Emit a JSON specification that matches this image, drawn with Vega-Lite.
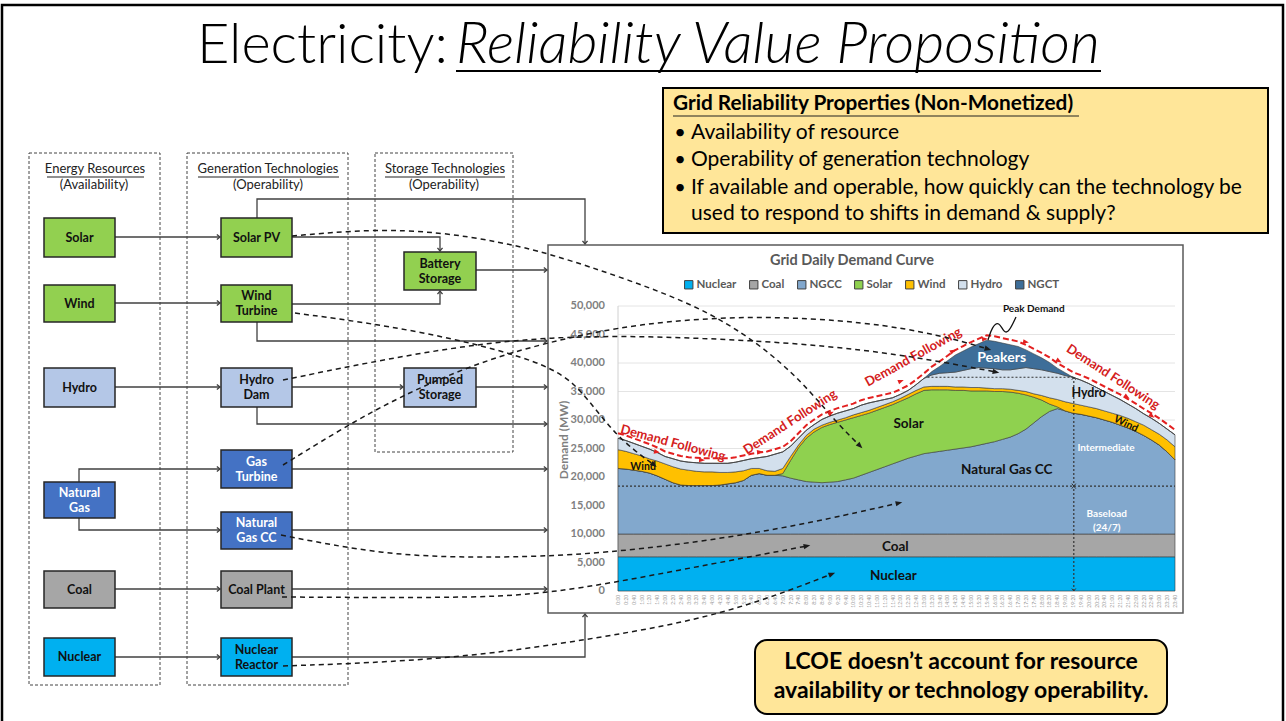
{
"$schema": "https://vega.github.io/schema/vega-lite/v6.json",
"width": 1286, "height": 721, "padding": 0, "autosize": {"type": "none"},
"background": "white",
"config": {"view": {"stroke": null}, "font": "Lato"},
"datasets": {
"gen": [
{"t":0,"hm":"0:00","Nuclear":6000,"Coal":4000,"NGCC":11500,"Solar":0,"Wind":3300,"Hydro":2000,"NGCT":0},
{"t":20,"hm":"0:20","Nuclear":6000,"Coal":4000,"NGCC":11400,"Solar":0,"Wind":3100,"Hydro":1900,"NGCT":0},
{"t":40,"hm":"0:40","Nuclear":6000,"Coal":4000,"NGCC":11200,"Solar":0,"Wind":2900,"Hydro":1800,"NGCT":0},
{"t":60,"hm":"1:00","Nuclear":6000,"Coal":4000,"NGCC":11000,"Solar":0,"Wind":2700,"Hydro":1700,"NGCT":0},
{"t":80,"hm":"1:20","Nuclear":6000,"Coal":4000,"NGCC":10700,"Solar":0,"Wind":2500,"Hydro":1700,"NGCT":0},
{"t":100,"hm":"1:40","Nuclear":6000,"Coal":4000,"NGCC":10200,"Solar":0,"Wind":2600,"Hydro":1500,"NGCT":0},
{"t":120,"hm":"2:00","Nuclear":6000,"Coal":4000,"NGCC":9600,"Solar":0,"Wind":2700,"Hydro":1300,"NGCT":0},
{"t":140,"hm":"2:20","Nuclear":6000,"Coal":4000,"NGCC":9000,"Solar":0,"Wind":2800,"Hydro":1400,"NGCT":0},
{"t":160,"hm":"2:40","Nuclear":6000,"Coal":4000,"NGCC":8600,"Solar":0,"Wind":2800,"Hydro":1400,"NGCT":0},
{"t":180,"hm":"3:00","Nuclear":6000,"Coal":4000,"NGCC":8500,"Solar":0,"Wind":2700,"Hydro":1400,"NGCT":0},
{"t":200,"hm":"3:20","Nuclear":6000,"Coal":4000,"NGCC":8500,"Solar":0,"Wind":2500,"Hydro":1500,"NGCT":0},
{"t":220,"hm":"3:40","Nuclear":6000,"Coal":4000,"NGCC":8500,"Solar":0,"Wind":2400,"Hydro":1500,"NGCT":0},
{"t":240,"hm":"4:00","Nuclear":6000,"Coal":4000,"NGCC":8500,"Solar":0,"Wind":2400,"Hydro":1500,"NGCT":0},
{"t":260,"hm":"4:20","Nuclear":6000,"Coal":4000,"NGCC":8600,"Solar":0,"Wind":2200,"Hydro":1600,"NGCT":0},
{"t":280,"hm":"4:40","Nuclear":6000,"Coal":4000,"NGCC":8800,"Solar":0,"Wind":2000,"Hydro":1600,"NGCT":0},
{"t":300,"hm":"5:00","Nuclear":6000,"Coal":4000,"NGCC":9000,"Solar":0,"Wind":1900,"Hydro":1700,"NGCT":0},
{"t":320,"hm":"5:20","Nuclear":6000,"Coal":4000,"NGCC":9400,"Solar":0,"Wind":1700,"Hydro":1800,"NGCT":0},
{"t":340,"hm":"5:40","Nuclear":6000,"Coal":4000,"NGCC":10300,"Solar":0,"Wind":1200,"Hydro":1700,"NGCT":0},
{"t":360,"hm":"6:00","Nuclear":6000,"Coal":4000,"NGCC":10600,"Solar":0,"Wind":900,"Hydro":1900,"NGCT":0},
{"t":380,"hm":"6:20","Nuclear":6000,"Coal":4000,"NGCC":10300,"Solar":0,"Wind":800,"Hydro":2500,"NGCT":0},
{"t":400,"hm":"6:40","Nuclear":6000,"Coal":4000,"NGCC":10300,"Solar":0,"Wind":700,"Hydro":3000,"NGCT":0},
{"t":420,"hm":"7:00","Nuclear":6000,"Coal":4000,"NGCC":10200,"Solar":400,"Wind":900,"Hydro":2900,"NGCT":0},
{"t":440,"hm":"7:20","Nuclear":6000,"Coal":4000,"NGCC":9800,"Solar":3100,"Wind":700,"Hydro":1800,"NGCT":0},
{"t":460,"hm":"7:40","Nuclear":6000,"Coal":4000,"NGCC":9500,"Solar":5600,"Wind":500,"Hydro":1200,"NGCT":0},
{"t":480,"hm":"8:00","Nuclear":6000,"Coal":4000,"NGCC":9200,"Solar":7600,"Wind":500,"Hydro":900,"NGCT":0},
{"t":500,"hm":"8:20","Nuclear":6000,"Coal":4000,"NGCC":9100,"Solar":8800,"Wind":500,"Hydro":800,"NGCT":0},
{"t":520,"hm":"8:40","Nuclear":6000,"Coal":4000,"NGCC":9000,"Solar":9700,"Wind":400,"Hydro":1000,"NGCT":0},
{"t":540,"hm":"9:00","Nuclear":6000,"Coal":4000,"NGCC":9100,"Solar":10100,"Wind":400,"Hydro":1100,"NGCT":0},
{"t":560,"hm":"9:20","Nuclear":6000,"Coal":4000,"NGCC":9200,"Solar":10400,"Wind":400,"Hydro":1200,"NGCT":0},
{"t":580,"hm":"9:40","Nuclear":6000,"Coal":4000,"NGCC":9500,"Solar":10500,"Wind":400,"Hydro":1200,"NGCT":0},
{"t":600,"hm":"10:00","Nuclear":6000,"Coal":4000,"NGCC":9800,"Solar":10600,"Wind":500,"Hydro":1100,"NGCT":0},
{"t":620,"hm":"10:20","Nuclear":6000,"Coal":4000,"NGCC":10300,"Solar":10500,"Wind":500,"Hydro":1300,"NGCT":0},
{"t":640,"hm":"10:40","Nuclear":6000,"Coal":4000,"NGCC":10800,"Solar":10400,"Wind":500,"Hydro":1300,"NGCT":0},
{"t":660,"hm":"11:00","Nuclear":6000,"Coal":4000,"NGCC":11300,"Solar":10400,"Wind":500,"Hydro":1100,"NGCT":0},
{"t":680,"hm":"11:20","Nuclear":6000,"Coal":4000,"NGCC":11800,"Solar":10400,"Wind":500,"Hydro":900,"NGCT":0},
{"t":700,"hm":"11:40","Nuclear":6000,"Coal":4000,"NGCC":12300,"Solar":10400,"Wind":500,"Hydro":700,"NGCT":0},
{"t":720,"hm":"12:00","Nuclear":6000,"Coal":4000,"NGCC":12800,"Solar":10500,"Wind":500,"Hydro":700,"NGCT":0},
{"t":740,"hm":"12:20","Nuclear":6000,"Coal":4000,"NGCC":13300,"Solar":10600,"Wind":600,"Hydro":700,"NGCT":0},
{"t":760,"hm":"12:40","Nuclear":6000,"Coal":4000,"NGCC":13700,"Solar":10900,"Wind":600,"Hydro":1000,"NGCT":0},
{"t":780,"hm":"13:00","Nuclear":6000,"Coal":4000,"NGCC":14100,"Solar":11100,"Wind":600,"Hydro":1500,"NGCT":0},
{"t":800,"hm":"13:20","Nuclear":6000,"Coal":4000,"NGCC":14300,"Solar":11000,"Wind":600,"Hydro":2000,"NGCT":600},
{"t":820,"hm":"13:40","Nuclear":6000,"Coal":4000,"NGCC":14500,"Solar":10800,"Wind":600,"Hydro":2300,"NGCT":1200},
{"t":840,"hm":"14:00","Nuclear":6000,"Coal":4000,"NGCC":14700,"Solar":10600,"Wind":600,"Hydro":2400,"NGCT":2100},
{"t":860,"hm":"14:20","Nuclear":6000,"Coal":4000,"NGCC":14900,"Solar":10300,"Wind":600,"Hydro":2600,"NGCT":3000},
{"t":880,"hm":"14:40","Nuclear":6000,"Coal":4000,"NGCC":15100,"Solar":10100,"Wind":600,"Hydro":2900,"NGCT":3400},
{"t":900,"hm":"15:00","Nuclear":6000,"Coal":4000,"NGCC":15300,"Solar":9800,"Wind":600,"Hydro":3300,"NGCT":3800},
{"t":920,"hm":"15:20","Nuclear":6000,"Coal":4000,"NGCC":15600,"Solar":9500,"Wind":600,"Hydro":3500,"NGCT":4200},
{"t":940,"hm":"15:40","Nuclear":6000,"Coal":4000,"NGCC":15900,"Solar":9200,"Wind":500,"Hydro":3500,"NGCT":4900},
{"t":960,"hm":"16:00","Nuclear":6000,"Coal":4000,"NGCC":16200,"Solar":8800,"Wind":500,"Hydro":3500,"NGCT":4800},
{"t":980,"hm":"16:20","Nuclear":6000,"Coal":4000,"NGCC":16600,"Solar":8400,"Wind":500,"Hydro":3300,"NGCT":4700},
{"t":1000,"hm":"16:40","Nuclear":6000,"Coal":4000,"NGCC":17000,"Solar":7900,"Wind":500,"Hydro":3400,"NGCT":4400},
{"t":1020,"hm":"17:00","Nuclear":6000,"Coal":4000,"NGCC":17600,"Solar":7100,"Wind":500,"Hydro":3800,"NGCT":3900},
{"t":1040,"hm":"17:20","Nuclear":6000,"Coal":4000,"NGCC":18400,"Solar":6000,"Wind":600,"Hydro":4200,"NGCT":3100},
{"t":1060,"hm":"17:40","Nuclear":6000,"Coal":4000,"NGCC":19500,"Solar":4500,"Wind":600,"Hydro":4400,"NGCT":2600},
{"t":1080,"hm":"18:00","Nuclear":6000,"Coal":4000,"NGCC":20600,"Solar":2900,"Wind":800,"Hydro":4500,"NGCT":2100},
{"t":1100,"hm":"18:20","Nuclear":6000,"Coal":4000,"NGCC":21500,"Solar":1300,"Wind":1100,"Hydro":4600,"NGCT":1600},
{"t":1120,"hm":"18:40","Nuclear":6000,"Coal":4000,"NGCC":22000,"Solar":300,"Wind":1300,"Hydro":4600,"NGCT":900},
{"t":1140,"hm":"19:00","Nuclear":6000,"Coal":4000,"NGCC":21600,"Solar":0,"Wind":1600,"Hydro":4600,"NGCT":500},
{"t":1160,"hm":"19:20","Nuclear":6000,"Coal":4000,"NGCC":21200,"Solar":0,"Wind":1700,"Hydro":4600,"NGCT":0},
{"t":1180,"hm":"19:40","Nuclear":6000,"Coal":4000,"NGCC":21000,"Solar":0,"Wind":1600,"Hydro":4400,"NGCT":0},
{"t":1200,"hm":"20:00","Nuclear":6000,"Coal":4000,"NGCC":20700,"Solar":0,"Wind":1600,"Hydro":4100,"NGCT":0},
{"t":1220,"hm":"20:20","Nuclear":6000,"Coal":4000,"NGCC":20400,"Solar":0,"Wind":1600,"Hydro":3700,"NGCT":0},
{"t":1240,"hm":"20:40","Nuclear":6000,"Coal":4000,"NGCC":20000,"Solar":0,"Wind":1600,"Hydro":3400,"NGCT":0},
{"t":1260,"hm":"21:00","Nuclear":6000,"Coal":4000,"NGCC":19600,"Solar":0,"Wind":1600,"Hydro":3100,"NGCT":0},
{"t":1280,"hm":"21:20","Nuclear":6000,"Coal":4000,"NGCC":19100,"Solar":0,"Wind":1700,"Hydro":2800,"NGCT":0},
{"t":1300,"hm":"21:40","Nuclear":6000,"Coal":4000,"NGCC":18600,"Solar":0,"Wind":1700,"Hydro":2500,"NGCT":0},
{"t":1320,"hm":"22:00","Nuclear":6000,"Coal":4000,"NGCC":18000,"Solar":0,"Wind":1700,"Hydro":2300,"NGCT":0},
{"t":1340,"hm":"22:20","Nuclear":6000,"Coal":4000,"NGCC":17300,"Solar":0,"Wind":1800,"Hydro":2000,"NGCT":0},
{"t":1360,"hm":"22:40","Nuclear":6000,"Coal":4000,"NGCC":16500,"Solar":0,"Wind":1800,"Hydro":2000,"NGCT":0},
{"t":1380,"hm":"23:00","Nuclear":6000,"Coal":4000,"NGCC":15600,"Solar":0,"Wind":1900,"Hydro":1900,"NGCT":0},
{"t":1400,"hm":"23:20","Nuclear":6000,"Coal":4000,"NGCC":14400,"Solar":0,"Wind":2100,"Hydro":1900,"NGCT":0},
{"t":1420,"hm":"23:40","Nuclear":6000,"Coal":4000,"NGCC":13000,"Solar":0,"Wind":2300,"Hydro":2100,"NGCT":0}
],
"rank": [{"src":"Nuclear","k":1},{"src":"Coal","k":2},{"src":"NGCC","k":3},{"src":"Solar","k":4},{"src":"Wind","k":5},{"src":"Hydro","k":6},{"src":"NGCT","k":7}],
"yticks": [{"t":0,"t2":1420,"mw":0},{"t":0,"t2":1420,"mw":5000},{"t":0,"t2":1420,"mw":10000},{"t":0,"t2":1420,"mw":15000},{"t":0,"t2":1420,"mw":20000},{"t":0,"t2":1420,"mw":25000},{"t":0,"t2":1420,"mw":30000},{"t":0,"t2":1420,"mw":35000},{"t":0,"t2":1420,"mw":40000},{"t":0,"t2":1420,"mw":45000},{"t":0,"t2":1420,"mw":50000}]
},
"resolve": {"scale": {"x": "independent", "y": "independent"}},
"layer": [
{
"encoding": {
 "x": {"field": "x", "type": "quantitative", "scale": {"domain": [0, 1286], "range": [0, 1286], "nice": false, "zero": false}, "axis": null},
 "y": {"field": "y", "type": "quantitative", "scale": {"domain": [0, 721], "range": [0, 721], "nice": false, "zero": false}, "axis": null}
},
"layer": [
 {"data": {"values": [{"x": 2, "y": 5, "x2": 1283, "y2": 740}]}, "mark": {"type": "rect", "fillOpacity": 0, "stroke": "#000", "strokeWidth": 2.5}, "encoding": {"x2": {"field": "x2"}, "y2": {"field": "y2"}}},
 {"data": {"values": [{"x": 448, "y": 46, "label": "Electricity:"}]}, "mark": {"type": "text", "align": "right", "fontSize": 56, "fontWeight": 300, "color": "#000"}, "encoding": {"text": {"field": "label"}}},
 {"data": {"values": [{"x": 456, "y": 46, "label": "Reliability Value Proposition"}]}, "mark": {"type": "text", "align": "left", "fontSize": 58, "fontWeight": 300, "fontStyle": "italic", "color": "#000"}, "encoding": {"text": {"field": "label"}}},
 {"data": {"values": [{"x": 456, "x2": 1101, "y": 71}]}, "mark": {"type": "rule", "color": "#000", "strokeWidth": 2}, "encoding": {"x2": {"field": "x2"}}},
 {"data": {"values": [{"x": 663, "y": 88, "x2": 1268, "y2": 233}]}, "mark": {"type": "rect", "fill": "#ffe699", "stroke": "#000", "strokeWidth": 2}, "encoding": {"x2": {"field": "x2"}, "y2": {"field": "y2"}}},
 {"data": {"values": [{"x": 673, "y": 104, "label": "Grid Reliability Properties (Non-Monetized)"}]}, "mark": {"type": "text", "align": "left", "fontSize": 20.8, "fontWeight": "bold", "color": "#000"}, "encoding": {"text": {"field": "label"}}},
 {"data": {"values": [{"x": 673, "x2": 1079, "y": 116}, {"x": 47, "x2": 144, "y": 177}, {"x": 198, "x2": 339, "y": 177}, {"x": 385, "x2": 505, "y": 177}]}, "mark": {"type": "rule", "color": "#222", "strokeWidth": 1.2}, "encoding": {"x2": {"field": "x2"}}},
 {"data": {"values": [{"x": 680, "y": 133, "label": "•"}, {"x": 680, "y": 160, "label": "•"}, {"x": 680, "y": 188, "label": "•"}]}, "mark": {"type": "text", "align": "center", "fontSize": 20, "color": "#000"}, "encoding": {"text": {"field": "label"}}},
 {"data": {"values": [{"x": 691, "y": 133, "label": "Availability of resource"}, {"x": 691, "y": 160, "label": "Operability of generation technology"}, {"x": 691, "y": 188, "label": "If available and operable, how quickly can the technology be"}, {"x": 691, "y": 214, "label": "used to respond to shifts in demand & supply?"}]}, "mark": {"type": "text", "align": "left", "fontSize": 21, "color": "#000"}, "encoding": {"text": {"field": "label"}}},
 {"data": {"values": [{"x": 29, "y": 153, "x2": 160, "y2": 685}, {"x": 187, "y": 153, "x2": 348, "y2": 685}, {"x": 375, "y": 153, "x2": 513, "y2": 452}]}, "mark": {"type": "rect", "fillOpacity": 0, "stroke": "#444", "strokeWidth": 1, "strokeDash": [3, 2]}, "encoding": {"x2": {"field": "x2"}, "y2": {"field": "y2"}}},
 {"data": {"values": [{"x": 95, "y": 169, "label": "Energy Resources"}, {"x": 94, "y": 185, "label": "(Availability)"}, {"x": 268, "y": 169, "label": "Generation Technologies"}, {"x": 268, "y": 185, "label": "(Operability)"}, {"x": 445, "y": 169, "label": "Storage Technologies"}, {"x": 444, "y": 185, "label": "(Operability)"}]}, "mark": {"type": "text", "fontSize": 13, "color": "#222"}, "encoding": {"text": {"field": "label"}}},
 {"data": {"values": [{"x": 548, "y": 245, "x2": 1183, "y2": 613}]}, "mark": {"type": "rect", "fill": "#ffffff", "stroke": "#595959", "strokeWidth": 1.5}, "encoding": {"x2": {"field": "x2"}, "y2": {"field": "y2"}}},
 {"data": {"values": [
  {"id": 1, "o": 1, "x": 115, "y": 237}, {"id": 1, "o": 2, "x": 220, "y": 237},
  {"id": 2, "o": 1, "x": 115, "y": 303}, {"id": 2, "o": 2, "x": 220, "y": 303},
  {"id": 3, "o": 1, "x": 115, "y": 387}, {"id": 3, "o": 2, "x": 220, "y": 387},
  {"id": 4, "o": 1, "x": 79, "y": 482}, {"id": 4, "o": 2, "x": 79, "y": 469}, {"id": 4, "o": 3, "x": 220, "y": 469},
  {"id": 5, "o": 1, "x": 79, "y": 518}, {"id": 5, "o": 2, "x": 79, "y": 530}, {"id": 5, "o": 3, "x": 220, "y": 530},
  {"id": 6, "o": 1, "x": 115, "y": 589}, {"id": 6, "o": 2, "x": 220, "y": 589},
  {"id": 7, "o": 1, "x": 115, "y": 657}, {"id": 7, "o": 2, "x": 220, "y": 657},
  {"id": 8, "o": 1, "x": 257, "y": 218}, {"id": 8, "o": 2, "x": 257, "y": 199}, {"id": 8, "o": 3, "x": 585, "y": 199}, {"id": 8, "o": 4, "x": 585, "y": 244},
  {"id": 9, "o": 1, "x": 292, "y": 237}, {"id": 9, "o": 2, "x": 440, "y": 237}, {"id": 9, "o": 3, "x": 440, "y": 251},
  {"id": 10, "o": 1, "x": 292, "y": 304}, {"id": 10, "o": 2, "x": 440, "y": 304}, {"id": 10, "o": 3, "x": 440, "y": 291},
  {"id": 11, "o": 1, "x": 257, "y": 322}, {"id": 11, "o": 2, "x": 257, "y": 341}, {"id": 11, "o": 3, "x": 547, "y": 341},
  {"id": 12, "o": 1, "x": 476, "y": 270}, {"id": 12, "o": 2, "x": 547, "y": 270},
  {"id": 13, "o": 1, "x": 292, "y": 387}, {"id": 13, "o": 2, "x": 403, "y": 387},
  {"id": 14, "o": 1, "x": 476, "y": 387}, {"id": 14, "o": 2, "x": 547, "y": 387},
  {"id": 15, "o": 1, "x": 257, "y": 407}, {"id": 15, "o": 2, "x": 257, "y": 424}, {"id": 15, "o": 3, "x": 547, "y": 424},
  {"id": 16, "o": 1, "x": 292, "y": 469}, {"id": 16, "o": 2, "x": 547, "y": 469},
  {"id": 17, "o": 1, "x": 292, "y": 530}, {"id": 17, "o": 2, "x": 547, "y": 530},
  {"id": 18, "o": 1, "x": 292, "y": 589}, {"id": 18, "o": 2, "x": 547, "y": 589},
  {"id": 19, "o": 1, "x": 292, "y": 657}, {"id": 19, "o": 2, "x": 585, "y": 657}, {"id": 19, "o": 3, "x": 585, "y": 614}
 ]}, "mark": {"type": "line", "color": "#404040", "strokeWidth": 1.3}, "encoding": {"detail": {"field": "id", "type": "nominal"}, "order": {"field": "o", "type": "quantitative"}}},
 {"data": {"values": [
  {"x": 220, "y": 237, "s": "r"}, {"x": 220, "y": 303, "s": "r"}, {"x": 220, "y": 387, "s": "r"}, {"x": 220, "y": 469, "s": "r"}, {"x": 220, "y": 530, "s": "r"}, {"x": 220, "y": 589, "s": "r"}, {"x": 220, "y": 657, "s": "r"},
  {"x": 585, "y": 244, "s": "d"}, {"x": 440, "y": 251, "s": "d"}, {"x": 440, "y": 291, "s": "u"}, {"x": 547, "y": 341, "s": "r"}, {"x": 547, "y": 270, "s": "r"}, {"x": 403, "y": 387, "s": "r"}, {"x": 547, "y": 387, "s": "r"}, {"x": 547, "y": 424, "s": "r"}, {"x": 547, "y": 469, "s": "r"}, {"x": 547, "y": 530, "s": "r"}, {"x": 547, "y": 589, "s": "r"}, {"x": 585, "y": 614, "s": "u"}
 ]}, "mark": {"type": "point", "filled": false, "stroke": "#404040", "strokeWidth": 1.3, "size": 40, "opacity": 1}, "encoding": {"shape": {"field": "s", "type": "nominal", "scale": {"domain": ["r", "d", "u"], "range": ["M-1,-0.8L0,0L-1,0.8", "M-0.8,-1L0,0L0.8,-1", "M-0.8,1L0,0L0.8,1"]}, "legend": null}}},
 {"data": {"values": [
  {"x": 44, "x2": 115, "y": 218, "y2": 257, "k": "Renewable"}, {"x": 44, "x2": 115, "y": 285, "y2": 322, "k": "Renewable"}, {"x": 44, "x2": 115, "y": 368, "y2": 407, "k": "Hydro"}, {"x": 44, "x2": 115, "y": 482, "y2": 518, "k": "Gas"}, {"x": 44, "x2": 115, "y": 571, "y2": 608, "k": "Coal"}, {"x": 44, "x2": 115, "y": 638, "y2": 676, "k": "Nuclear"},
  {"x": 221, "x2": 292, "y": 218, "y2": 257, "k": "Renewable"}, {"x": 221, "x2": 292, "y": 285, "y2": 322, "k": "Renewable"}, {"x": 221, "x2": 292, "y": 368, "y2": 407, "k": "Hydro"}, {"x": 221, "x2": 292, "y": 450, "y2": 488, "k": "Gas"}, {"x": 221, "x2": 292, "y": 512, "y2": 549, "k": "Gas"}, {"x": 221, "x2": 292, "y": 571, "y2": 608, "k": "Coal"}, {"x": 221, "x2": 292, "y": 638, "y2": 676, "k": "Nuclear"},
  {"x": 404, "x2": 476, "y": 252, "y2": 290, "k": "Renewable"}, {"x": 404, "x2": 476, "y": 368, "y2": 407, "k": "Hydro"}
 ]}, "mark": {"type": "rect", "stroke": "#262626", "strokeWidth": 1.5}, "encoding": {"x2": {"field": "x2"}, "y2": {"field": "y2"}, "fill": {"field": "k", "type": "nominal", "scale": {"domain": ["Renewable", "Hydro", "Gas", "Coal", "Nuclear"], "range": ["#92d050", "#b4c7e7", "#4472c4", "#a6a6a6", "#00b0f0"]}, "legend": null}}},
 {"data": {"values": [
  {"x": 79.5, "y": 237.5, "label": "Solar"}, {"x": 79.5, "y": 303.5, "label": "Wind"}, {"x": 79.5, "y": 387.5, "label": "Hydro"}, {"x": 79.5, "y": 589.5, "label": "Coal"}, {"x": 79.5, "y": 657, "label": "Nuclear"},
  {"x": 256.5, "y": 237.5, "label": "Solar PV"}, {"x": 256.5, "y": 296, "label": "Wind\nTurbine"}, {"x": 256.5, "y": 380, "label": "Hydro\nDam"}, {"x": 256.5, "y": 589.5, "label": "Coal Plant"}, {"x": 256.5, "y": 649.5, "label": "Nuclear\nReactor"},
  {"x": 440, "y": 263.5, "label": "Battery\nStorage"}, {"x": 440, "y": 380, "label": "Pumped\nStorage"}
 ]}, "mark": {"type": "text", "fontSize": 12.5, "fontWeight": "bold", "color": "#111", "lineBreak": "\n", "lineHeight": 15}, "encoding": {"text": {"field": "label"}}},
 {"data": {"values": [
  {"x": 79.5, "y": 492.5, "label": "Natural\nGas"}, {"x": 256.5, "y": 461.5, "label": "Gas\nTurbine"}, {"x": 256.5, "y": 523, "label": "Natural\nGas CC"}
 ]}, "mark": {"type": "text", "fontSize": 12.5, "fontWeight": "bold", "color": "#ffffff", "lineBreak": "\n", "lineHeight": 15}, "encoding": {"text": {"field": "label"}}},
 {"data": {"values": [{"x": 852, "y": 261, "label": "Grid Daily Demand Curve"}]}, "mark": {"type": "text", "fontSize": 14.5, "fontWeight": "bold", "color": "#595959"}, "encoding": {"text": {"field": "label"}}},
 {"data": {"values": [{"x": 564, "y": 440, "label": "Demand (MW)"}]}, "mark": {"type": "text", "fontSize": 12, "fontWeight": "bold", "color": "#7f7f7f", "angle": 270}, "encoding": {"text": {"field": "label"}}},
 {"data": {"values": [{"x": 755, "y": 640, "x2": 1167, "y2": 714}]}, "mark": {"type": "rect", "fill": "#ffe699", "stroke": "#000", "strokeWidth": 2, "cornerRadius": 12}, "encoding": {"x2": {"field": "x2"}, "y2": {"field": "y2"}}},
 {"data": {"values": [{"x": 961, "y": 662, "label": "LCOE doesn’t account for resource"}, {"x": 961, "y": 691, "label": "availability or technology operability."}]}, "mark": {"type": "text", "fontSize": 23, "fontWeight": "bold", "color": "#000"}, "encoding": {"text": {"field": "label"}}}
]
},
{
"encoding": {
 "x": {"field": "t", "type": "quantitative", "scale": {"domain": [0, 1420], "range": [618, 1175], "nice": false, "zero": false}, "axis": null},
 "y": {"field": "mw", "type": "quantitative", "scale": {"domain": [0, 50000], "range": [591, 306], "nice": false, "zero": false}, "axis": null}
},
"layer": [
 {"data": {"name": "yticks"}, "mark": {"type": "rule", "color": "#e4e4e4", "strokeWidth": 1}, "encoding": {"x2": {"field": "t2"}}},
 {"data": {"values": [{"t": 0, "mw": 0, "mw2": 50000}]}, "mark": {"type": "rule", "color": "#d0d0d0", "strokeWidth": 1}, "encoding": {"y2": {"field": "mw2"}}},
 {"data": {"name": "yticks"}, "mark": {"type": "text", "align": "right", "dx": -13, "fontSize": 11, "fontWeight": "bold", "color": "#808080"}, "encoding": {"text": {"field": "mw", "type": "quantitative", "format": ","}}},
 {"data": {"name": "gen"}, "transform": [{"fold": ["Nuclear"], "as": ["src", "mw"]}], "mark": {"type": "text", "align": "right", "angle": 270, "fontSize": 5, "color": "#9a9a9a", "yOffset": 38}, "encoding": {"text": {"field": "hm", "type": "nominal"}}},
 {"data": {"name": "gen"},
  "transform": [{"fold": ["Nuclear", "Coal", "NGCC", "Solar", "Wind", "Hydro", "NGCT"], "as": ["src", "mw"]}, {"lookup": "src", "from": {"data": {"name": "rank"}, "key": "src", "fields": ["k"]}}],
  "mark": {"type": "area", "stroke": "#3a3a3a", "strokeWidth": 0.6, "opacity": 1},
  "encoding": {
   "color": {"field": "src", "type": "nominal", "scale": {"domain": ["Nuclear", "Coal", "NGCC", "Solar", "Wind", "Hydro", "NGCT"], "range": ["#00b0f0", "#a6a6a6", "#82a8cd", "#8fd14f", "#ffc000", "#d3e0ed", "#3e6e99"]},
    "legend": {"orient": "none", "legendX": 683, "legendY": 279, "direction": "horizontal", "title": null, "symbolType": "square", "symbolSize": 70, "symbolStrokeColor": "#404040", "symbolStrokeWidth": 1, "labelFontSize": 11.5, "labelFontWeight": "bold", "labelColor": "#595959", "columnPadding": 10, "labelOffset": 2}},
   "order": {"field": "k", "type": "quantitative", "sort": "ascending"}
  }},
 {"data": {"values": [{"t": 0, "t2": 1420, "mw": 18400}, {"t": 789, "t2": 1162, "mw": 37500}]}, "mark": {"type": "rule", "strokeDash": [2, 2], "color": "#333", "strokeWidth": 1.2}, "encoding": {"x2": {"field": "t2"}}},
 {"data": {"values": [{"t": 1162, "mw": 0, "mw2": 37500}]}, "mark": {"type": "rule", "strokeDash": [2, 2], "color": "#333", "strokeWidth": 1.2}, "encoding": {"y2": {"field": "mw2"}}},
 {"data": {"values": [{"t": 1162, "mw": 37500, "s": "u"}, {"t": 1162, "mw": 18400, "s": "d"}, {"t": 1162, "mw": 18400, "s": "u"}, {"t": 1162, "mw": 0, "s": "d"}]}, "mark": {"type": "point", "filled": false, "stroke": "#333", "strokeWidth": 1, "size": 25, "opacity": 1}, "encoding": {"shape": {"field": "s", "type": "nominal", "scale": {"domain": ["r", "d", "u"], "range": ["M-1,-0.8L0,0L-1,0.8", "M-0.8,-1L0,0L0.8,-1", "M-0.8,1L0,0L0.8,1"]}, "legend": null}}},
 {"data": {"name": "gen"}, "transform": [{"fold": ["Nuclear", "Coal", "NGCC", "Solar", "Wind", "Hydro", "NGCT"], "as": ["src", "mw"]}],
  "mark": {"type": "line", "color": "#e32020", "strokeWidth": 2, "strokeDash": [6, 3], "yOffset": -5},
  "encoding": {"y": {"aggregate": "sum", "field": "mw", "type": "quantitative", "scale": {"domain": [0, 50000], "range": [591, 306], "nice": false, "zero": false}, "axis": null}}},
 {"data": {"values": [{"t": 741, "mw": 29300, "label": "Solar"}, {"t": 991, "mw": 21200, "label": "Natural Gas CC"}, {"t": 707, "mw": 7700, "label": "Coal"}, {"t": 702, "mw": 2600, "label": "Nuclear"}]}, "mark": {"type": "text", "fontSize": 13.5, "fontWeight": "bold", "color": "#111"}, "encoding": {"text": {"field": "label"}}},
 {"data": {"values": [{"t": 978, "mw": 40900, "label": "Peakers"}]}, "mark": {"type": "text", "fontSize": 14, "fontWeight": "bold", "color": "#ffffff"}, "encoding": {"text": {"field": "label"}}},
 {"data": {"values": [{"t": 1200, "mw": 34700, "label": "Hydro"}]}, "mark": {"type": "text", "fontSize": 12.5, "fontWeight": "bold", "color": "#111"}, "encoding": {"text": {"field": "label"}}},
 {"data": {"values": [{"t": 64, "mw": 21750, "label": "Wind", "a": 0}, {"t": 1295, "mw": 29300, "label": "Wind", "a": 25}]}, "mark": {"type": "text", "fontSize": 10.5, "fontWeight": "bold", "color": "#111"}, "encoding": {"text": {"field": "label"}, "angle": {"field": "a", "type": "quantitative", "scale": null}}},
 {"data": {"values": [{"t": 1244, "mw": 25100, "label": "Intermediate"}, {"t": 1246, "mw": 13500, "label": "Baseload"}, {"t": 1246, "mw": 11050, "label": "(24/7)"}]}, "mark": {"type": "text", "fontSize": 10, "fontWeight": "bold", "color": "#ffffff"}, "encoding": {"text": {"field": "label"}}},
 {"data": {"values": [{"t": 1060, "mw": 49460, "label": "Peak Demand"}]}, "mark": {"type": "text", "fontSize": 10, "fontWeight": "bold", "color": "#111"}, "encoding": {"text": {"field": "label"}}},
 {"data": {"values": [{"t": 140, "mw": 25960, "label": "Demand Following", "a": 15}, {"t": 439, "mw": 29640, "label": "Demand Following", "a": -33}, {"t": 753, "mw": 41040, "label": "Demand Following", "a": -29}, {"t": 1262, "mw": 37540, "label": "Demand Following", "a": 33}]}, "mark": {"type": "text", "fontSize": 13, "fontWeight": "bold", "color": "#d42020"}, "encoding": {"text": {"field": "label"}, "angle": {"field": "a", "type": "quantitative", "scale": null}}}
]
},
{
"encoding": {
 "x": {"field": "x", "type": "quantitative", "scale": {"domain": [0, 1286], "range": [0, 1286], "nice": false, "zero": false}, "axis": null},
 "y": {"field": "y", "type": "quantitative", "scale": {"domain": [0, 721], "range": [0, 721], "nice": false, "zero": false}, "axis": null}
},
"layer": [
 {"data": {"values": [
  {"id": 1, "o": 1, "x": 292, "y": 236}, {"id": 1, "o": 2, "x": 370, "y": 229}, {"id": 1, "o": 3, "x": 440, "y": 232}, {"id": 1, "o": 4, "x": 500, "y": 242}, {"id": 1, "o": 5, "x": 548, "y": 253}, {"id": 1, "o": 6, "x": 630, "y": 280}, {"id": 1, "o": 7, "x": 712, "y": 312}, {"id": 1, "o": 8, "x": 774, "y": 355}, {"id": 1, "o": 9, "x": 811, "y": 392}, {"id": 1, "o": 10, "x": 836, "y": 422}, {"id": 1, "o": 11, "x": 860, "y": 446},
  {"id": 2, "o": 1, "x": 295, "y": 313}, {"id": 2, "o": 2, "x": 420, "y": 330}, {"id": 2, "o": 3, "x": 548, "y": 362}, {"id": 2, "o": 4, "x": 582, "y": 390}, {"id": 2, "o": 5, "x": 615, "y": 436}, {"id": 2, "o": 6, "x": 654, "y": 465},
  {"id": 3, "o": 1, "x": 283, "y": 380}, {"id": 3, "o": 2, "x": 420, "y": 352}, {"id": 3, "o": 3, "x": 548, "y": 335}, {"id": 3, "o": 4, "x": 700, "y": 337}, {"id": 3, "o": 5, "x": 868, "y": 348}, {"id": 3, "o": 6, "x": 996, "y": 372},
  {"id": 4, "o": 1, "x": 283, "y": 465}, {"id": 4, "o": 2, "x": 356, "y": 420}, {"id": 4, "o": 3, "x": 414, "y": 390}, {"id": 4, "o": 4, "x": 480, "y": 362}, {"id": 4, "o": 5, "x": 548, "y": 342}, {"id": 4, "o": 6, "x": 638, "y": 323}, {"id": 4, "o": 7, "x": 755, "y": 315}, {"id": 4, "o": 8, "x": 868, "y": 322}, {"id": 4, "o": 9, "x": 940, "y": 335}, {"id": 4, "o": 10, "x": 988, "y": 349},
  {"id": 5, "o": 1, "x": 281, "y": 535}, {"id": 5, "o": 2, "x": 383, "y": 555}, {"id": 5, "o": 3, "x": 480, "y": 558}, {"id": 5, "o": 4, "x": 600, "y": 555}, {"id": 5, "o": 5, "x": 766, "y": 533}, {"id": 5, "o": 6, "x": 899, "y": 503},
  {"id": 6, "o": 1, "x": 282, "y": 597}, {"id": 6, "o": 2, "x": 450, "y": 598}, {"id": 6, "o": 3, "x": 548, "y": 595}, {"id": 6, "o": 4, "x": 680, "y": 570}, {"id": 6, "o": 5, "x": 807, "y": 546},
  {"id": 7, "o": 1, "x": 283, "y": 666}, {"id": 7, "o": 2, "x": 450, "y": 660}, {"id": 7, "o": 3, "x": 600, "y": 638}, {"id": 7, "o": 4, "x": 725, "y": 615}, {"id": 7, "o": 5, "x": 832, "y": 574}
 ]}, "mark": {"type": "line", "color": "#1a1a1a", "strokeWidth": 1.5, "strokeDash": [5, 4], "interpolate": "basis"}, "encoding": {"detail": {"field": "id", "type": "nominal"}, "order": {"field": "o", "type": "quantitative"}}},
 {"data": {"values": [{"x": 860, "y": 446, "a": 45}, {"x": 654, "y": 465, "a": 37}, {"x": 996, "y": 372, "a": 11}, {"x": 988, "y": 349, "a": 16}, {"x": 899, "y": 503, "a": -13}, {"x": 807, "y": 546, "a": -11}, {"x": 832, "y": 574, "a": -21}]},
  "mark": {"type": "point", "shape": "M-1,-0.8L1,0L-1,0.8Z", "filled": true, "color": "#1a1a1a", "size": 45, "opacity": 1}, "encoding": {"angle": {"field": "a", "type": "quantitative", "scale": null}}},
 {"data": {"values": [{"x": 657, "y": 452, "a": 12}, {"x": 702, "y": 460, "a": 3}, {"x": 760, "y": 452, "a": -8}, {"x": 831, "y": 413, "a": -25}, {"x": 901, "y": 381, "a": -22}, {"x": 953, "y": 351, "a": -30}, {"x": 985, "y": 339, "a": -5}, {"x": 1026, "y": 342, "a": 10}, {"x": 1059, "y": 361, "a": 30}, {"x": 1127, "y": 397, "a": 33}, {"x": 1152, "y": 416, "a": 35}]},
  "mark": {"type": "point", "shape": "M-1,-0.8L1,0L-1,0.8Z", "filled": true, "color": "#e32020", "size": 35, "opacity": 1}, "encoding": {"angle": {"field": "a", "type": "quantitative", "scale": null}}},
 {"data": {"values": [{"o": 1, "x": 988, "y": 340}, {"o": 2, "x": 992, "y": 327}, {"o": 3, "x": 999, "y": 321}, {"o": 4, "x": 1004, "y": 333}, {"o": 5, "x": 1009, "y": 332}, {"o": 6, "x": 1016, "y": 317}]}, "mark": {"type": "line", "color": "#111", "strokeWidth": 1.3, "interpolate": "basis"}, "encoding": {"order": {"field": "o", "type": "quantitative"}}}
]
}
]
}
